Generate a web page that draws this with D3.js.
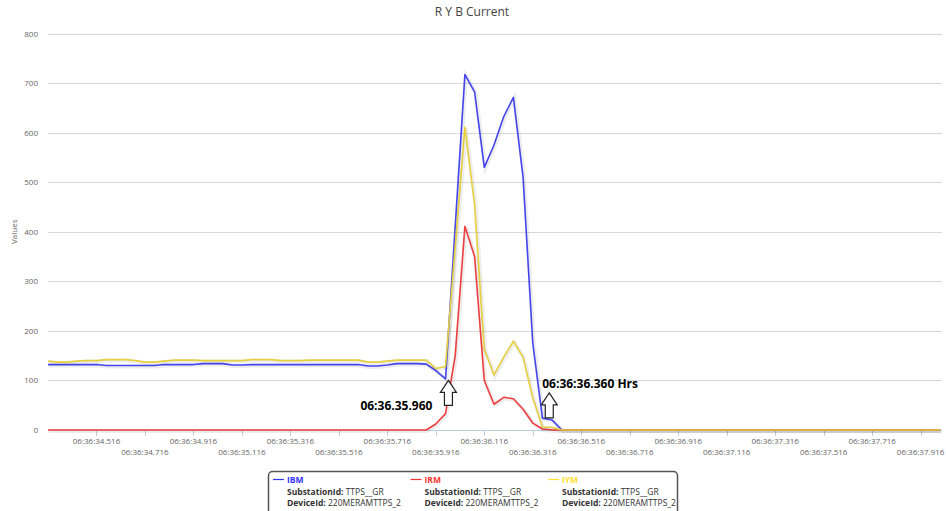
<!DOCTYPE html>
<html lang="en">

<head>
  <meta charset="UTF-8">
  <title>R Y B Current</title>
  <script src="https://d3js.org/d3.v7.min.js"></script>
  <style>
    body {
      margin: 0;
      background: #fff;
    }

    text {
      font-family: "Lucida Grande", "Open Sans", sans-serif;
    }

    .grid line {
      stroke: #d8d8d8;
      stroke-width: 1;
    }

    .tick-label {
      font-size: 8px;
      fill: #666;
    }

    .title {
      font-size: 12px;
      fill: #444;
    }

    .note {
      font-size: 12px;
      font-weight: bold;
      fill: #000;
    }

    .legend text {
      font-size: 8.5px;
      fill: #333;
    }
  </style>
</head>

<body>
  <svg width="946" height="511"></svg>
  <script>
    // sampling: first sample at 06:36:34.316, one every 40 ms
    const startSec = 34.316;
    const stepSec = 0.04;

    const ibm = [
      132, 132, 132, 132, 132, 132, 130, 130, 130, 130,
      130, 130, 132, 132, 132, 132, 134, 134, 134, 131,
      131, 132, 132, 132, 132, 132, 132, 132, 132, 132,
      132, 132, 132, 129, 129, 131, 134, 134, 134, 133,
      120, 103, 410, 717, 682, 530, 575, 632, 671, 510,
      175, 24, 20, 0, 0, 0, 0, 0, 0, 0,
      0, 0, 0, 0, 0, 0, 0, 0, 0, 0,
      0, 0, 0, 0, 0, 0, 0, 0, 0, 0,
      0, 0, 0, 0, 0, 0, 0, 0, 0, 0,
      0, 0, 0
    ];

    const irm = [
      0, 0, 0, 0, 0, 0, 0, 0, 0, 0,
      0, 0, 0, 0, 0, 0, 0, 0, 0, 0,
      0, 0, 0, 0, 0, 0, 0, 0, 0, 0,
      0, 0, 0, 0, 0, 0, 0, 0, 0, 0,
      12, 33, 150, 411, 350, 100, 52, 66, 63, 42,
      14, 2, 0, 0, 0, 0, 0, 0, 0, 0,
      0, 0, 0, 0, 0, 0, 0, 0, 0, 0,
      0, 0, 0, 0, 0, 0, 0, 0, 0, 0,
      0, 0, 0, 0, 0, 0, 0, 0, 0, 0,
      0, 0, 0
    ];

    const iym = [
      139, 137, 137, 139, 140, 140, 142, 142, 142, 140,
      137, 137, 139, 141, 141, 141, 140, 140, 140, 140,
      140, 142, 142, 142, 140, 140, 140, 141, 141, 141,
      141, 141, 141, 137, 137, 139, 141, 141, 141, 141,
      124, 128, 370, 611, 455, 163, 111, 147, 179, 147,
      65, 6, 5, 0, 0, 0, 0, 0, 0, 0,
      0, 0, 0, 0, 0, 0, 0, 0, 0, 0,
      0, 0, 0, 0, 0, 0, 0, 0, 0, 0,
      0, 0, 0, 0, 0, 0, 0, 0, 0, 0,
      0, 0, 0
    ];

    const seriesNames = ['IBM', 'IRM', 'IYM'];
    const lineColors = ['#4545ee', '#ee4040', '#e6d040'];
    const legendColors = ['#3333ff', '#ff3333', '#ffe030'];
    const yTicks = [0, 100, 200, 300, 400, 500, 600, 700, 800];
    const substation = 'TTPS__GR';
    const device = '220MERAMTTPS_2';

    // arrow notes: time (s), value at arrow tip, label
    const notes = [
      { t: 35.968, v: 100, label: '06:36.35.960', side: 'left' },
      { t: 36.384, v: 75, label: '06:36:36.360 Hrs', side: 'right' }
    ];

    const svg = d3.select('svg');
    const plotL = 48;
    const plotR = 940;
    const plotT = 33.5;
    const plotB = 430;

    const n = ibm.length;
    const x = d3.scaleLinear()
      .domain([startSec, startSec + (n - 1) * stepSec])
      .range([plotL, plotR]);

    const y = d3.scaleLinear()
      .domain([0, 800])
      .range([plotB, plotT]);

    // grid + y labels
    const grid = svg.append('g').attr('class', 'grid');
    grid.selectAll('line')
      .data(yTicks.filter(d => d > 0))
      .enter()
      .append('line')
      .attr('x1', plotL)
      .attr('x2', 942)
      .attr('y1', d => Math.round(y(d)) + 0.5)
      .attr('y2', d => Math.round(y(d)) + 0.5);

    svg.append('g')
      .selectAll('text')
      .data(yTicks)
      .enter()
      .append('text')
      .attr('class', 'tick-label')
      .attr('x', 38)
      .attr('y', d => y(d) + 3)
      .attr('text-anchor', 'end')
      .text(d => d);

    svg.append('text')
      .attr('class', 'tick-label')
      .attr('transform', `translate(17,${(plotT + plotB) / 2}) rotate(-90)`)
      .attr('text-anchor', 'middle')
      .text('Values');

    // x axis
    svg.append('line')
      .attr('x1', plotL)
      .attr('x2', 942)
      .attr('y1', plotB + 0.5)
      .attr('y2', plotB + 0.5)
      .attr('stroke', '#c0d0e0');

    const tickIdx = d3.range(5, n, 5);
    const xt = svg.append('g');
    xt.selectAll('line')
      .data(tickIdx)
      .enter()
      .append('line')
      .attr('x1', i => Math.round(x(startSec + i * stepSec)) + 0.5)
      .attr('x2', i => Math.round(x(startSec + i * stepSec)) + 0.5)
      .attr('y1', plotB)
      .attr('y2', plotB + 6)
      .attr('stroke', '#c0d0e0');

    xt.selectAll('text')
      .data(tickIdx)
      .enter()
      .append('text')
      .attr('class', 'tick-label')
      .attr('x', i => x(startSec + i * stepSec))
      .attr('y', (i, k) => (k % 2 === 0 ? 444 : 455))
      .attr('text-anchor', 'middle')
      .text(i => `06:36:${(startSec + i * stepSec).toFixed(3)}`);

    // lines
    const line = d3.line()
      .x((d, i) => x(startSec + i * stepSec))
      .y(d => y(d));

    [ibm, irm, iym].forEach((s, k) => {
      svg.append('path')
        .attr('d', line(s))
        .attr('fill', 'none')
        .attr('stroke', 'rgba(0,0,0,0.07)')
        .attr('stroke-width', 4)
        .attr('transform', 'translate(1,1)');
      svg.append('path')
        .attr('d', line(s))
        .attr('fill', 'none')
        .attr('stroke', lineColors[k])
        .attr('stroke-width', 1.6)
        .attr('stroke-linejoin', 'round');
    });

    // arrow notes
    const arrow = 'M0,0 L8,12 L4,12 L4,25 L-4,25 L-4,12 L-8,12 Z';
    notes.forEach(nt => {
      const ax = x(nt.t);
      const ay = y(nt.v);
      svg.append('path')
        .attr('d', arrow)
        .attr('transform', `translate(${ax},${ay})`)
        .attr('fill', '#fff')
        .attr('stroke', '#222')
        .attr('stroke-width', 1.2);
      if (nt.side === 'left') {
        svg.append('text')
          .attr('class', 'note')
          .attr('x', ax - 16)
          .attr('y', ay + 30)
          .attr('text-anchor', 'end')
          .text(nt.label);
      } else {
        svg.append('text')
          .attr('class', 'note')
          .attr('x', ax - 7)
          .attr('y', ay - 5)
          .text(nt.label);
      }
    });

    // title
    svg.append('text')
      .attr('class', 'title')
      .attr('x', 472)
      .attr('y', 16)
      .attr('text-anchor', 'middle')
      .text('R Y B Current');

    // legend
    const legend = svg.append('g').attr('class', 'legend');
    legend.append('rect')
      .attr('x', 268.5)
      .attr('y', 471.5)
      .attr('width', 409)
      .attr('height', 60)
      .attr('rx', 4)
      .attr('fill', '#fff')
      .attr('stroke', '#555')
      .attr('stroke-width', 1.5);

    const items = legend.selectAll('.item')
      .data(seriesNames)
      .enter()
      .append('g')
      .attr('class', 'item')
      .attr('transform', (d, i) => `translate(${273 + i * 137.5},0)`);

    items.append('line')
      .attr('x1', 0)
      .attr('x2', 11)
      .attr('y1', 479.5)
      .attr('y2', 479.5)
      .attr('stroke', (d, i) => legendColors[i])
      .attr('stroke-width', 1.2);

    items.append('text')
      .attr('x', 14)
      .attr('y', 482.5)
      .attr('font-weight', 'bold')
      .style('fill', (d, i) => legendColors[i])
      .text(d => d);

    const sub = items.append('text')
      .attr('x', 14)
      .attr('y', 495);
    sub.append('tspan').attr('font-weight', 'bold').text('SubstationId: ');
    sub.append('tspan').text(substation);

    const dev = items.append('text')
      .attr('x', 14)
      .attr('y', 505.5);
    dev.append('tspan').attr('font-weight', 'bold').text('DeviceId: ');
    dev.append('tspan').text(device);
  </script>
</body>

</html>
